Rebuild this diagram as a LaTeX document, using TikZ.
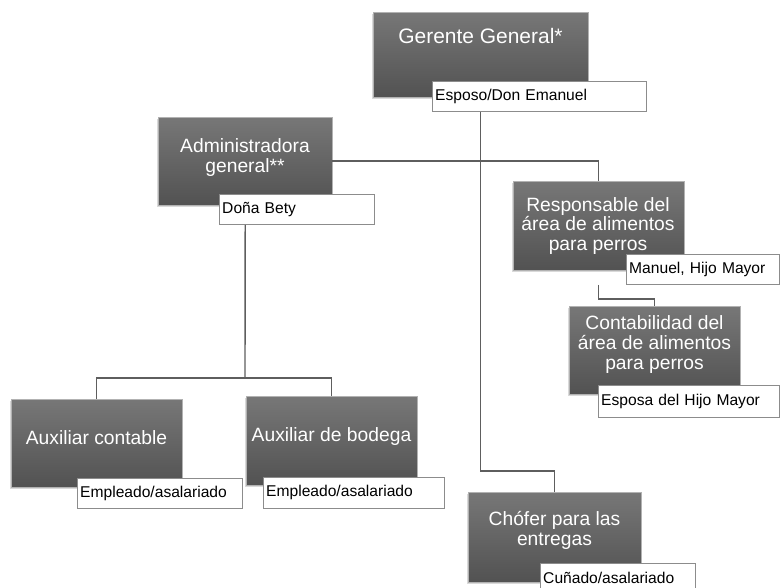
\documentclass[tikz,border=0pt]{standalone}
\usepackage{fontspec}
\setmainfont{Liberation Sans}
\usetikzlibrary{shadows}

\definecolor{boxtop}{HTML}{777777}
\definecolor{boxbot}{HTML}{525252}
\definecolor{linkgray}{HTML}{5E5E5E}
\definecolor{taggray}{HTML}{8C8C8C}

\begin{document}
\begin{tikzpicture}[
    post/.style={anchor=north west, top color=boxtop, bottom color=boxbot,
        draw=gray!60, line width=0.3pt, minimum width=4.275cm, minimum height=2.2cm,
        drop shadow={shadow xshift=-0.6pt, shadow yshift=-1.5pt, opacity=0.3}},
    posttext/.style={text=white, align=center, inner sep=0pt,
        font=\fontsize{13.7}{14.2}\selectfont},
    tag/.style={anchor=north west, draw=taggray, line width=0.6pt, fill=white,
        minimum height=0.75cm, inner xsep=2pt, align=left,
        font=\fontsize{11.1}{13}\selectfont},
    link/.style={draw=linkgray, line width=1pt}
]
\useasboundingbox (0,0) rectangle (19.5,14.7);

% puestos
\node[post, minimum width=5.375cm, minimum height=2.125cm] (gg) at (9.325,14.4) {};
\node[posttext, font=\fontsize{14.9}{16}\selectfont] (gg-t) at (12.0125,13.8) {Gerente General*};
\node[tag, text width=5.21cm] (ggl) at (10.8,12.675) {Esposo/Don Emanuel};

\node[post, minimum width=4.35cm] (adm) at (3.95,11.775) {};
\node[posttext] (adm-t) at (6.125,10.75) {Administradora\\general**};
\node[tag, text width=3.735cm] (adml) at (5.475,9.85) {Doña Bety};

\node[post, minimum height=2.225cm] (resp) at (12.825,10.175) {};
\node[posttext] (resp-t) at (14.95,9.05) {Responsable del\\área de alimentos\\para perros};
\node[tag, text width=3.685cm] (respl) at (15.65,8.35) {Manuel, Hijo Mayor};

\node[post] (cont) at (14.225,7.05) {};
\node[posttext] (cont-t) at (16.3625,6.0875) {Contabilidad del\\área de alimentos\\para perros};
\node[tag, text width=4.385cm, minimum height=0.8cm] (contl) at (14.95,5.075) {Esposa del Hijo Mayor};

\node[post] (auxc) at (0.275,4.725) {};
\node[posttext] (auxc-t) at (2.4125,3.75) {Auxiliar contable};
\node[tag, text width=3.985cm] (auxcl) at (1.925,2.75) {Empleado/asalariado};

\node[post, minimum height=2.225cm] (auxb) at (6.15,4.8) {};
\node[posttext] (auxb-t) at (8.2875,3.775) {Auxiliar de bodega};
\node[tag, text width=4.385cm, minimum height=0.775cm] (auxbl) at (6.575,2.775) {Empleado/asalariado};

\node[post, minimum width=4.325cm, minimum height=2.25cm] (chof) at (11.7,2.4) {};
\node[posttext] (chof-t) at (13.8625,1.45) {Chófer para las\\entregas};
\node[tag, text width=3.735cm] (chofl) at (13.5,0.625) {Cuñado/asalariado};

% lineas
\coordinate (admbus) at (6.125,5.25);

\draw[link] (ggl.south -| gg.south) |- (adm.east);
\draw[link] (adm.east -| gg.south) -| (resp.north);
\draw[link] (adm.east -| gg.south) -- ++(0,-7.75) -| (chof.north);
\draw[link] (respl.south -| resp.south) -- ++(0,-0.35) -| (cont.north);
\draw[link] (adml.south -| adm.south) -- (admbus);
\draw[link] (auxc.north) |- (admbus) -| (auxb.north);

\end{tikzpicture}
\end{document}
